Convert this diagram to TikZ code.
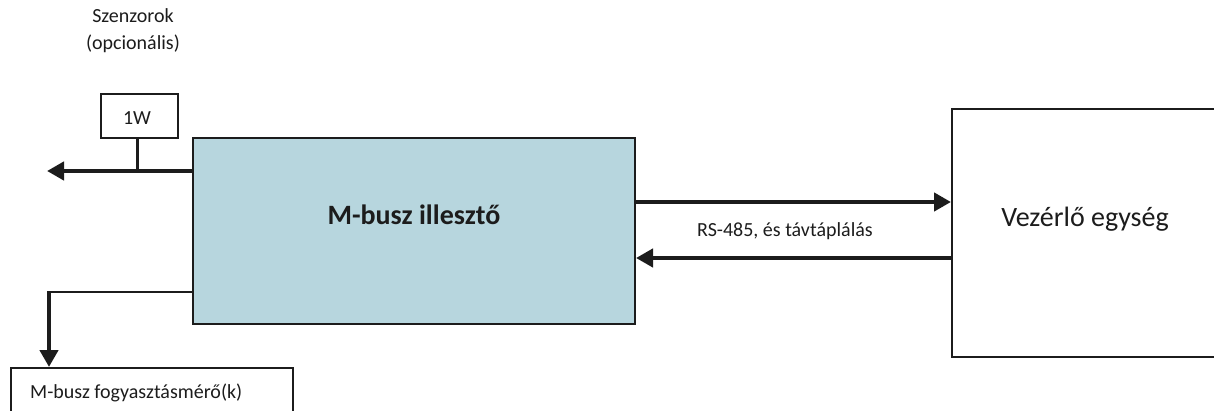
\documentclass[tikz,border=0pt]{standalone}
\usepackage{fontspec}
\setmainfont{Carlito}
\usetikzlibrary{arrows.meta}
\definecolor{boxblue}{RGB}{183,214,222}
\definecolor{ink}{RGB}{28,28,28}
\begin{document}
\begin{tikzpicture}[x=1pt,y=-1pt,
  frame/.style={draw=ink, line width=2pt, inner sep=0pt},
  thinlink/.style={draw=ink, line width=2.5pt},
  bus/.style={draw=ink, line width=4.5pt, -{Triangle[length=17pt,width=18pt]}},
  lbl/.style={font=\fontsize{20}{24}\selectfont, text=ink, inner sep=0pt},
  big/.style={font=\fontsize{28}{34}\selectfont, text=ink, inner sep=0pt}]
\useasboundingbox (0,0) rectangle (1214,411);

% boxes
\node[frame, fill=boxblue, anchor=north west, minimum width=442pt, minimum height=185pt] (adapter) at (192,137.5) {};
\node[frame, anchor=north west, minimum width=263pt, minimum height=248pt] (ctrl) at (951,108) {};
\node[frame, anchor=north west, minimum width=282pt, minimum height=60pt] (meter) at (10,367) {};
\node[frame, anchor=north west, minimum width=77pt, minimum height=44pt] (sensor) at (100,93) {};

% texts
\node[big, font=\fontsize{28}{34}\selectfont\bfseries, anchor=base] (adaptertext) at (414,225) {M-busz illesztő};
\node[big, anchor=base] (ctrltext) at (1085,227) {Vezérlő egység};
\node[lbl, anchor=base west] (metertext) at (30,398) {M-busz fogyasztásmérő(k)};
\node[lbl, anchor=base] (sensortext) at (137,125) {1W};
\node[lbl, anchor=base] (senshead) at (133,23) {Szenzorok};
\node[lbl, anchor=base] (senshead2) at (133,50) {(opcionális)};
\node[lbl, anchor=base] (linklabel) at (785,237) {RS-485, és távtáplálás};

% connector points
\coordinate (westend) at (47,171);
\coordinate (meterdrop) at (49,292);
\coordinate (upper) at (0,202);
\coordinate (lower) at (0,258);

% sensor bus to the left
\draw[bus] (adapter.north west |- westend) -- (westend);
\draw[thinlink] ([xshift=-2pt]sensor.south) -- ([xshift=-2pt]sensor.south |- westend);

% meter branch
\draw[thinlink] (adapter.north west |- meterdrop) -- ([xshift=-2.25pt]meterdrop);
\draw[bus] ([yshift=-1.25pt]meterdrop) -- (meterdrop |- meter.north);

% link to the controller
\draw[bus] (adapter.east |- upper) -- (ctrl.west |- upper);
\draw[bus] (ctrl.west |- lower) -- (adapter.east |- lower);
\end{tikzpicture}
\end{document}
